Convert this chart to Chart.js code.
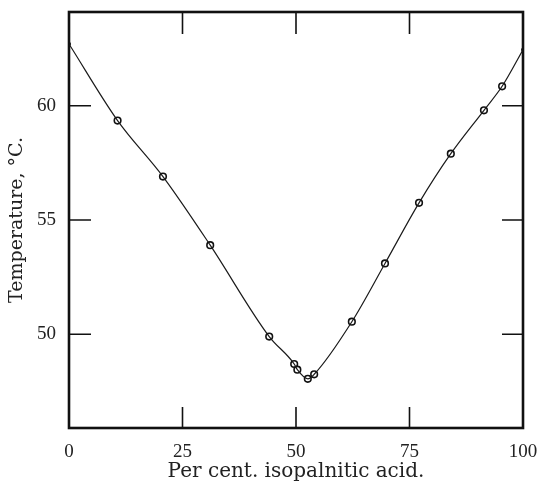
<!DOCTYPE html>
<html>
<head>
<meta charset="utf-8">
<script src="https://cdn.jsdelivr.net/npm/chart.js@4"></script>
<style>
  html, body { margin: 0; padding: 0; background: #fff; }
  #wrap { width: 552px; height: 484px; }
</style>
</head>
<body>
<div id="wrap"><canvas id="myChart_fp" width="552" height="484"></canvas></div>
<script>
// per cent isopalmitic acid and melting temperature
const percent = [0, 10.7, 20.7, 31.1, 44.1, 49.6, 50.3, 52.6, 54.0, 62.3, 69.6, 77.1, 84.1, 91.4, 95.4, 100];
const temps = [62.7, 59.35, 56.9, 53.9, 49.9, 48.7, 48.45, 48.05, 48.25, 50.55, 53.1, 55.75, 57.9, 59.8, 60.85, 62.45];
const xTicks = [0, 25, 50, 75, 100];
const yTicks = [50, 55, 60];

const serif = '"Liberation Serif", "DejaVu Serif", serif';
const wideSerif = '"DejaVu Serif", "Liberation Serif", serif';

const pts = percent.map((p, i) => ({ x: p, y: temps[i] }));
const openPts = pts.slice(1, -1);
const endPts = [pts[0], pts[pts.length - 1]];

// frame + inward tick marks like the old printed figure
const framePlugin = {
  id: 'frame',
  afterDraw(chart) {
    const { ctx, chartArea: a, scales } = chart;
    ctx.save();
    ctx.strokeStyle = '#111';
    ctx.lineWidth = 1.6;
    xTicks.slice(1, -1).forEach((v) => {
      const px = scales.x.getPixelForValue(v);
      ctx.beginPath();
      ctx.moveTo(px, a.bottom); ctx.lineTo(px, a.bottom - 21);
      ctx.moveTo(px, a.top); ctx.lineTo(px, a.top + 22);
      ctx.stroke();
    });
    yTicks.forEach((v) => {
      const py = scales.y.getPixelForValue(v);
      ctx.beginPath();
      ctx.moveTo(a.left, py); ctx.lineTo(a.left + 22, py);
      ctx.moveTo(a.right, py); ctx.lineTo(a.right - 21, py);
      ctx.stroke();
    });
    ctx.lineWidth = 2.6;
    ctx.strokeRect(a.left, a.top, a.right - a.left, a.bottom - a.top);
    ctx.restore();
  }
};

const ctx = document.getElementById('myChart_fp').getContext('2d');
new Chart(ctx, {
  type: 'scatter',
  data: {
    datasets: [
      {
        label: 'curve',
        data: pts,
        showLine: true,
        cubicInterpolationMode: 'monotone',
        borderColor: '#1a1a1a',
        borderWidth: 1.2,
        pointRadius: 0,
      },
      {
        label: 'obs',
        data: openPts,
        pointRadius: 3.3,
        pointBorderWidth: 1.6,
        pointBorderColor: '#111',
        pointBackgroundColor: '#fff',
      },
      {
        label: 'ends',
        data: endPts,
        pointRadius: 2,
        pointBorderWidth: 0,
        pointBackgroundColor: '#111',
      },
    ],
  },
  options: {
    responsive: false,
    animation: false,
    layout: { padding: { left: 0, right: 29, top: 12, bottom: 0 } },
    plugins: { legend: { display: false }, tooltip: { enabled: false } },
    scales: {
      x: {
        type: 'linear',
        min: 0,
        max: 100,
        afterBuildTicks: (s) => { s.ticks = xTicks.map((v) => ({ value: v })); },
        afterFit: (s) => { s.height = 56; s.paddingLeft = 0; s.paddingRight = 0; },
        grid: { display: false },
        border: { display: false },
        ticks: { color: '#222', font: { family: serif, size: 19 }, padding: 5, maxRotation: 0 },
        title: {
          display: true,
          text: 'Per cent. isopalnitic acid.',
          color: '#222',
          font: { family: wideSerif, size: 20 },
          padding: { top: 0, bottom: 0 },
        },
      },
      y: {
        min: 45.9,
        max: 64.1,
        afterBuildTicks: (s) => { s.ticks = yTicks.map((v) => ({ value: v })); },
        afterFit: (s) => { s.width = 69; s.paddingTop = 0; s.paddingBottom = 0; },
        grid: { display: false },
        border: { display: false },
        ticks: { color: '#222', font: { family: serif, size: 19 }, padding: 5 },
        title: {
          display: true,
          text: 'Temperature, °C.',
          color: '#222',
          font: { family: wideSerif, size: 19 },
          padding: { top: 6, bottom: 0 },
        },
      },
    },
  },
  plugins: [framePlugin],
});
</script>
</body>
</html>
